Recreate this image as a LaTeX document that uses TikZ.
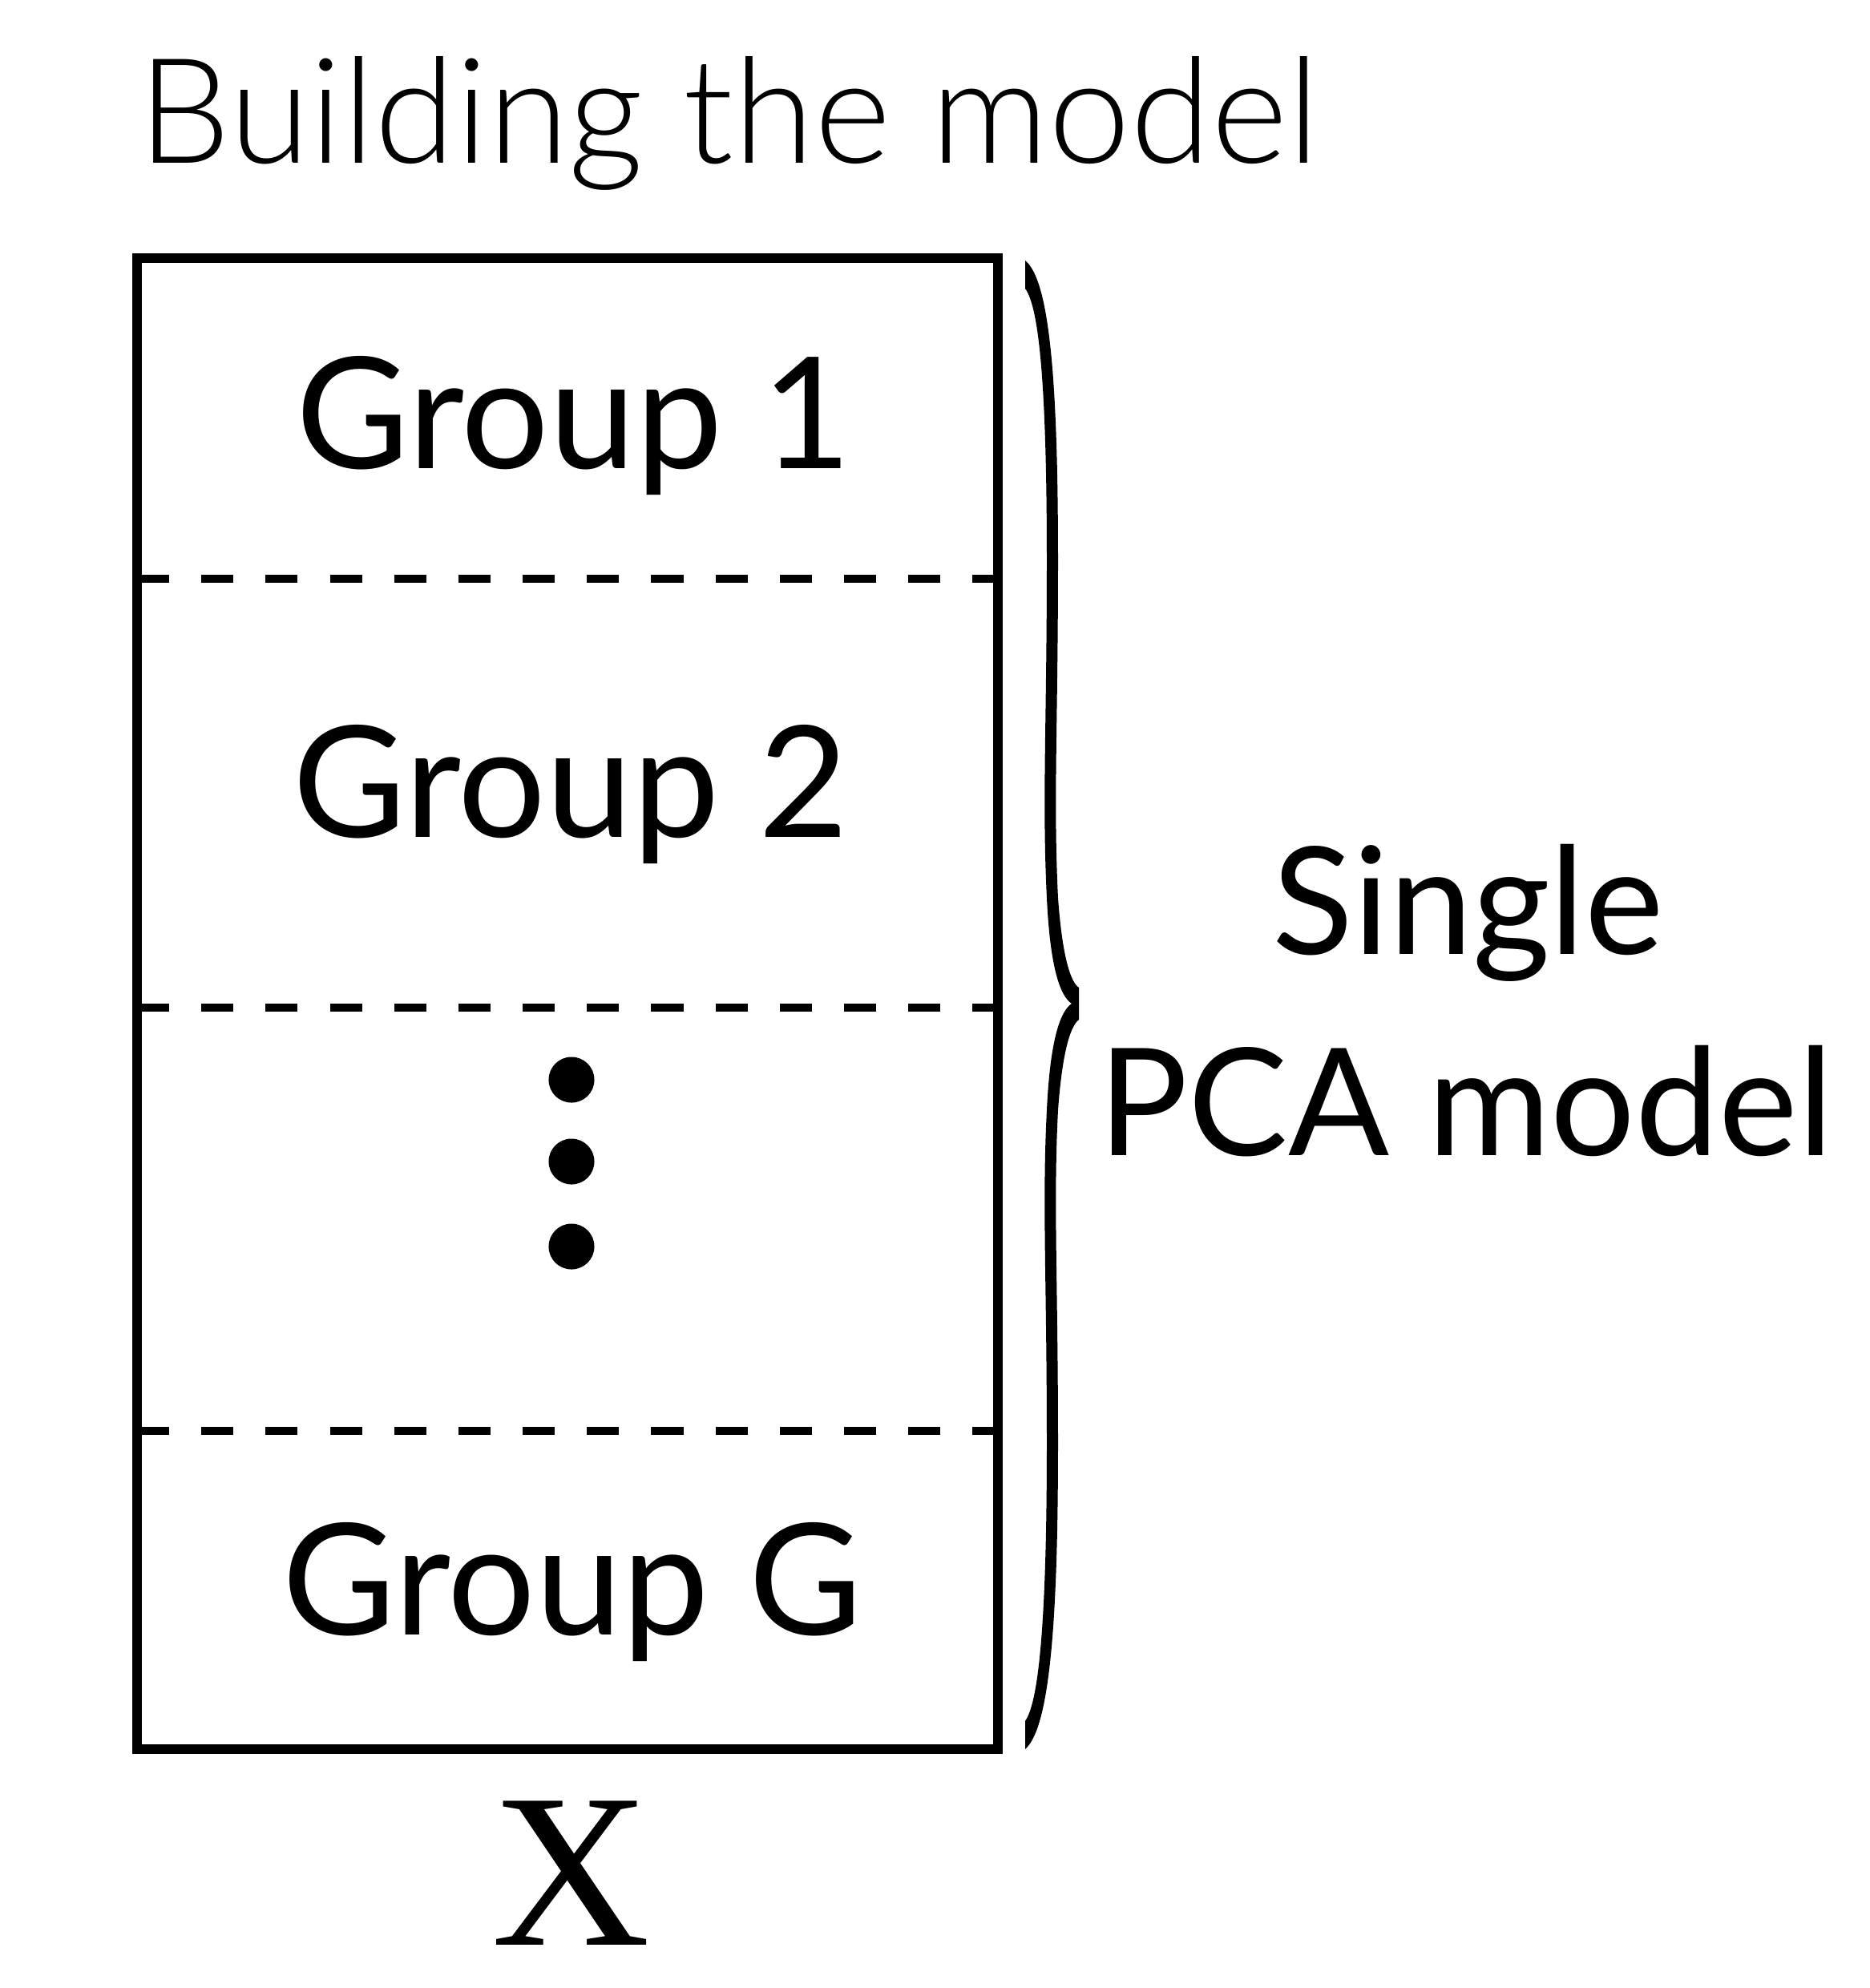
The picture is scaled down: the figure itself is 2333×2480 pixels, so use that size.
\documentclass[tikz,border=0pt]{standalone}
\usepackage{fontspec}
\setmainfont{Lato}
\newfontfamily\titlefont{Lato Light}
\newfontfamily\serifX{Liberation Serif}
\begin{document}
\begin{tikzpicture}[x=0.01cm,y=-0.01cm,
  frame/.style={line width=3.41pt,line join=miter},
  sep/.style={line width=2.6pt,dash pattern=on 11.4pt off 11.4pt},
  lbl/.style={inner sep=0pt,anchor=base},
  grp/.style={lbl,font=\fontsize{55}{60}\selectfont},
  side/.style={lbl,font=\fontsize{53}{60}\selectfont},
  dotmark/.style={circle,fill=black,inner sep=0pt,minimum size=0.57cm}]
\useasboundingbox (0,0) rectangle (2333,2480);
\node[lbl,anchor=base west,font=\titlefont\fontsize{52}{60}\selectfont] (title) at (172,203) {Building the model};
\coordinate (tl) at (171,322);
\coordinate (br) at (1245,2182);
\draw[frame] (tl) rectangle (br);
\coordinate (d1l) at (171,722);  \coordinate (d1r) at (1245,722);
\coordinate (d2l) at (171,1257); \coordinate (d2r) at (1245,1257);
\coordinate (d3l) at (171,1785); \coordinate (d3r) at (1245,1785);
\draw[sep] (d1l) -- (d1r);
\draw[sep] (d2l) -- (d2r);
\draw[sep] (d3l) -- (d3r);
\node[grp] (g1) at (716,584) {Group 1};
\node[grp] (g2) at (712,1044) {Group 2};
\node[grp] (gG) at (714,2039) {Group G};
\node[dotmark] (dot1) at (713,1347) {};
\node[dotmark] (dot2) at (713,1449) {};
\node[dotmark] (dot3) at (713,1555) {};
\node[lbl,font=\serifX\fontsize{78}{80}\selectfont] (X) at (713,2426) {X};
\fill (1279,325) .. controls (1310,350) and (1320,480) .. (1320,700)
  .. controls (1320,900) and (1314,1000) .. (1320,1120)
  .. controls (1325,1190) and (1335,1225) .. (1346,1232)
  -- (1346,1272)
  .. controls (1335,1280) and (1325,1315) .. (1320,1385)
  .. controls (1314,1500) and (1320,1600) .. (1320,1800)
  .. controls (1320,2020) and (1310,2155) .. (1279,2182)
  -- (1279,2147)
  .. controls (1298,2120) and (1306,2000) .. (1306,1800)
  .. controls (1306,1600) and (1300,1500) .. (1306,1385)
  .. controls (1310,1300) and (1322,1262) .. (1337,1252)
  .. controls (1322,1242) and (1310,1205) .. (1306,1120)
  .. controls (1300,1000) and (1306,900) .. (1306,700)
  .. controls (1306,500) and (1298,385) .. (1279,360) -- cycle;
\node[side] (single) at (1832,1190) {Single};
\node[side] (pca) at (1829,1441) {PCA model};
\end{tikzpicture}
\end{document}
